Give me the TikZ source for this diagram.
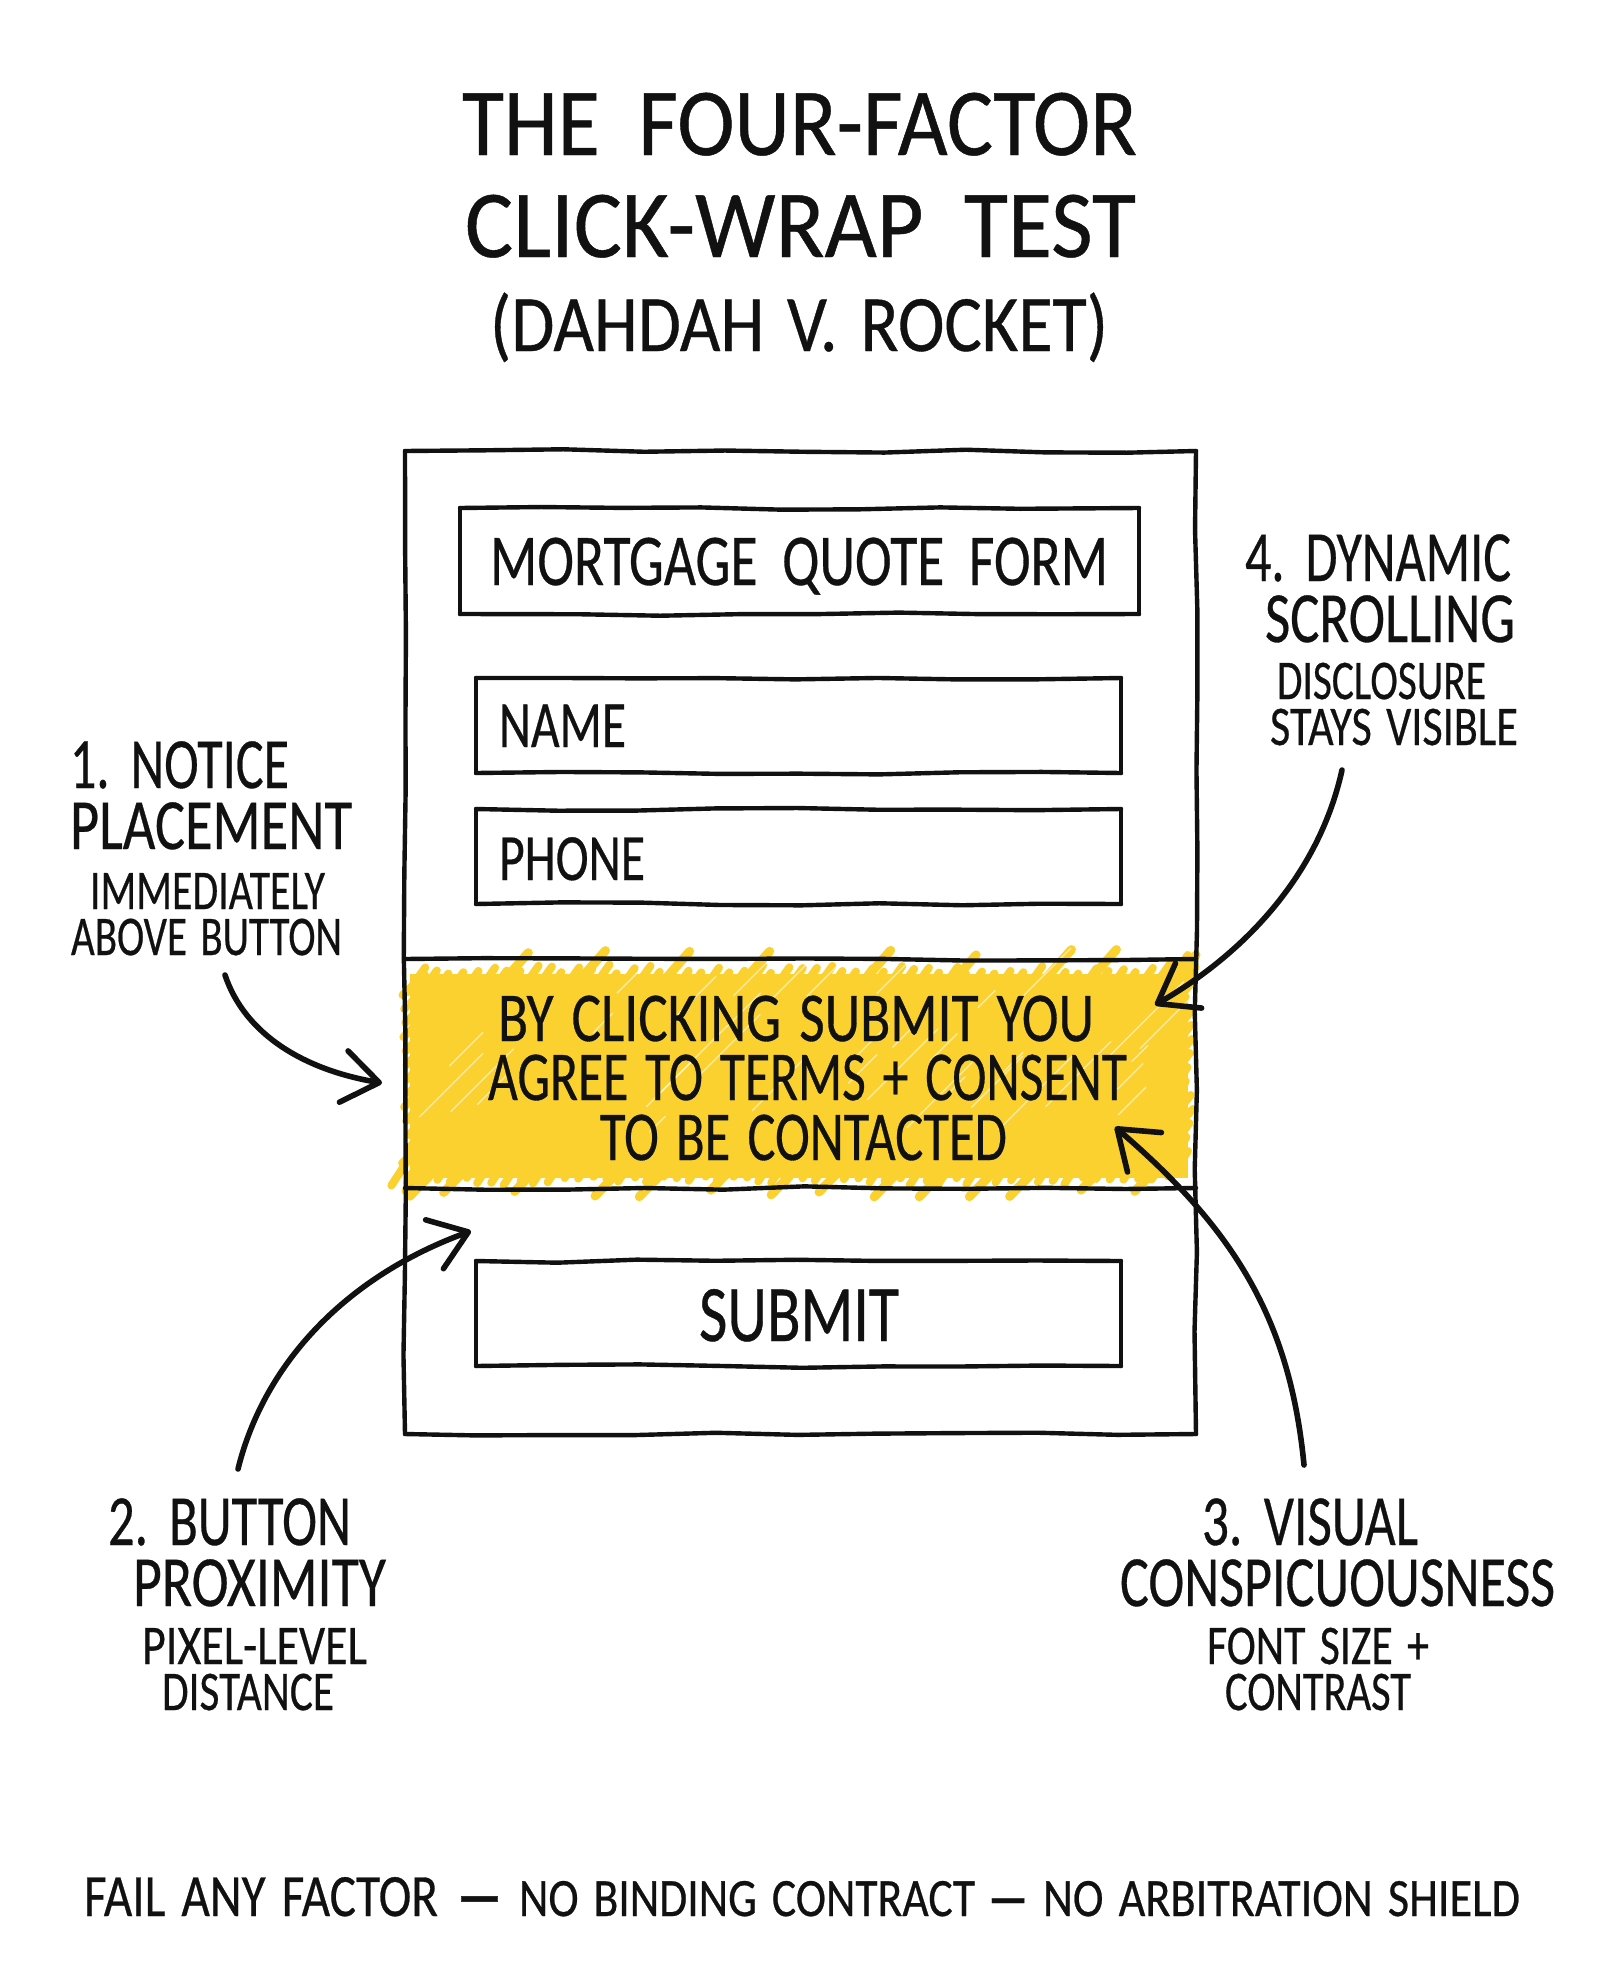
\documentclass[tikz,border=0pt]{standalone}
\usepackage{fontspec}
\usepackage{graphicx}
\setmainfont{Carlito}[WordSpace=1.45,FakeBold=0.5]
\usetikzlibrary{arrows.meta,decorations.pathmorphing}
\definecolor{ink}{HTML}{111111}
\definecolor{marker}{HTML}{FBD130}
\tikzset{
  txt/.style={anchor=base west,inner sep=0pt,outer sep=0pt,text=ink},
  wob/.style={decorate,decoration={random steps,segment length=40pt,amplitude=0.9pt}},
  handbox/.style={rectangle,inner sep=0pt,outer sep=0pt},
  handline/.style={draw=ink,line width=2.2pt,line cap=round,line join=round,wob},
  pointer/.style={draw=ink,line width=2.8pt,line cap=round,-{Straight Barb[length=18pt,width=26pt,line width=2.8pt,round]}},
  scrib/.style={draw=marker,line cap=round,line width=4pt},
  spike/.style={draw=marker,line cap=round,line width=4.5pt},
  scratch/.style={draw=white,line cap=round,line width=0.7pt,opacity=0.55}
}
% name, left x, baseline y, width (all px), font size (pt), text
\newcommand\tx[6]{\node[txt] (#1) at (#2,#3) {\fontsize{#5}{#5}\selectfont\resizebox{\dimexpr#4pt/2\relax}{\height}{#6}};}
% name, left, top, right, bottom (px)
\newcommand\hbx[5]{\node[handbox,minimum width={(#4-#2)*0.5pt},minimum height={(#5-#3)*0.5pt}] (#1) at ({(#2+#4)/2},{(#3+#5)/2}) {};
  \draw[handline] (#1.north west) -- (#1.north east);
  \draw[handline] (#1.north east) -- (#1.south east);
  \draw[handline] (#1.south east) -- (#1.south west);
  \draw[handline] (#1.south west) -- (#1.north west);}
\begin{document}
\begin{tikzpicture}[x=0.5pt,y=-0.5pt]
\useasboundingbox (0,0) rectangle (1600,1986);
\fill[white] (0,0) rectangle (1600,1986);
\pgfmathsetseed{11}
% marker band
\fill[marker] (410,974) rectangle (1188,1178);
\foreach \i in {0,...,55}{
  \pgfmathsetmacro\xx{408+\i*14}
  \pgfmathsetmacro\ra{rnd*10}
  \pgfmathsetmacro\rb{rnd*10}
  \draw[scrib] (\xx,992) -- ({\xx+12+\ra*0.8},{974-\ra});
  \draw[scrib] (\xx,1160) -- ({\xx-10-\rb*0.7},{1176+\rb});
}
\foreach \x in {500,575,660,740,860,950,1040,1085,1170}{
  \pgfmathsetmacro\ra{rnd*7}
  \draw[spike] (\x,985) -- ({\x+26+\ra},{955-\ra});
}
\foreach \x in {440,470,540,625,670,735,800,845,905,950,1000,1040,1105,1160}{
  \pgfmathsetmacro\ra{rnd*7}
  \draw[spike] (\x,1165) -- ({\x-24-\ra},{1190+\ra});
}
\foreach \i in {0,...,14}{
  \pgfmathsetmacro\yy{975+\i*14}
  \pgfmathsetmacro\ra{rnd*9}
  \pgfmathsetmacro\rb{rnd*9}
  \draw[scrib] (425,\yy) -- ({402+\ra},{\yy+20});
  \draw[scrib] (1175,\yy) -- ({1193-\rb},{\yy-20});
}
\foreach \i in {0,...,34}{
  \pgfmathsetmacro\xx{415+rnd*760}
  \pgfmathsetmacro\yy{975+rnd*190}
  \pgfmathsetmacro\ll{15+rnd*60}
  \draw[scratch] (\xx,\yy) -- ({\xx+\ll},{\yy-\ll});
}
% form
\hbx{form}{405}{451}{1196}{1434}
\hbx{formtitle}{460}{508}{1139}{614}
\hbx{namebox}{476}{678}{1121}{773}
\hbx{phonebox}{476}{809}{1121}{904}
\hbx{submitbox}{476}{1261}{1121}{1366}
\draw[handline] (form.west |- 0,959) -- (form.east |- 0,959);
\draw[handline] (form.west |- 0,1188) -- (form.east |- 0,1188);
% title
\tx{t1}{462}{155}{675}{48}{THE\hspace{0.12em} FOUR-FACTOR}
\tx{t2}{465}{257}{671}{48}{CLICK-WRAP\hspace{0.12em} TEST}
\tx{t3}{490}{351}{618}{40}{(DAHDAH V. ROCKET)}
% form text
\tx{ft}{490}{585}{618}{36.5}{MORTGAGE\hspace{0.12em} QUOTE\hspace{0.12em} FORM}
\tx{fn}{499}{747}{127}{33}{NAME}
\tx{fp}{499}{880}{146}{33}{PHONE}
\tx{b1}{498}{1041}{596}{35}{BY CLICKING SUBMIT YOU}
\tx{b2}{488}{1100}{639}{35}{AGREE TO TERMS + CONSENT}
\tx{b3}{600}{1160}{407}{35}{TO BE CONTACTED}
\tx{fs}{699}{1341}{200}{40}{SUBMIT}
% labels
\tx{l1a}{70}{788}{219}{36}{1. NOTICE}
\tx{l1b}{70}{849}{282}{36}{PLACEMENT}
\tx{l1c}{90}{909}{235}{28}{IMMEDIATELY}
\tx{l1d}{71}{955}{271}{28}{ABOVE BUTTON}
\tx{l4a}{1245}{581}{266}{36}{4. DYNAMIC}
\tx{l4b}{1265}{642}{250}{36}{SCROLLING}
\tx{l4c}{1277}{699}{209}{28}{DISCLOSURE}
\tx{l4d}{1270}{745}{248}{28}{STAYS VISIBLE}
\tx{l2a}{108}{1545}{243}{36}{2. BUTTON}
\tx{l2b}{133}{1606}{253}{36}{PROXIMITY}
\tx{l2c}{142}{1664}{225}{28}{PIXEL-LEVEL}
\tx{l2d}{162}{1710}{172}{28}{DISTANCE}
\tx{l3a}{1202}{1545}{216}{36}{3. VISUAL}
\tx{l3b}{1120}{1606}{435}{36}{CONSPICUOUSNESS}
\tx{l3c}{1207}{1664}{222}{28}{FONT SIZE +}
\tx{l3d}{1225}{1710}{186}{28}{CONTRAST}
% footer
\node[txt] (foot) at (84,1916) {\fontsize{30}{30}\selectfont\resizebox{177pt}{\height}{FAIL ANY FACTOR}\hspace{9.5pt}\resizebox{22.5pt}{\height}{\bfseries —}\hspace{8.5pt}\fontsize{27}{27}\selectfont\resizebox{228pt}{\height}{NO BINDING CONTRACT}\hspace{6.5pt}\resizebox{20pt}{\height}{\bfseries —}\hspace{7.5pt}\resizebox{238.5pt}{\height}{NO ARBITRATION SHIELD}};
% connectors
\coordinate (s1) at (225,975);  \coordinate (e1) at (382,1083);
\coordinate (s2) at (238,1469); \coordinate (e2) at (471,1231);
\coordinate (s3) at (1304,1465);\coordinate (e3) at (1115,1127);
\coordinate (s4) at (1342,770); \coordinate (e4) at (1155,1005);
\draw[pointer] (s1) .. controls (245,1035) and (305,1070) .. (e1);
\draw[pointer] (s2) .. controls (265,1360) and (350,1275) .. (e2);
\draw[pointer] (s3) .. controls (1290,1320) and (1235,1230) .. (e3);
\draw[pointer] (s4) .. controls (1320,870) and (1250,950) .. (e4);
\end{tikzpicture}
\end{document}
